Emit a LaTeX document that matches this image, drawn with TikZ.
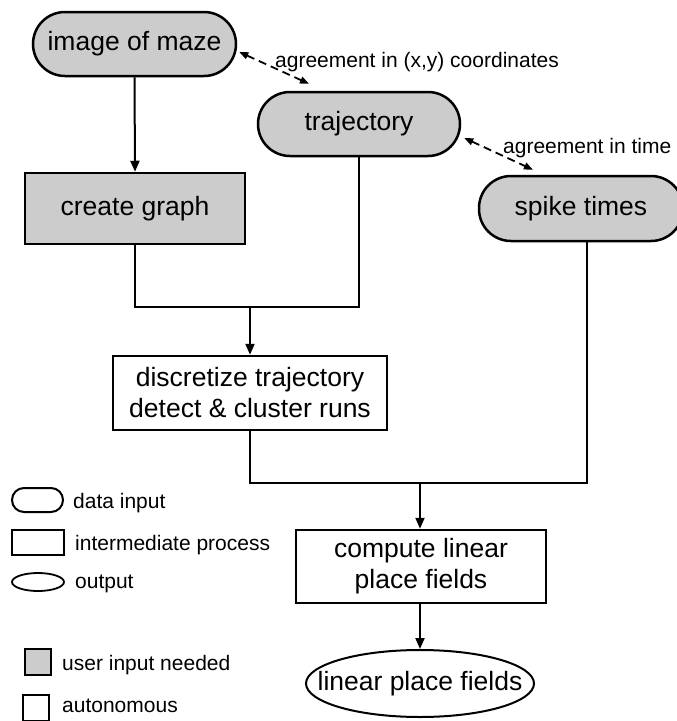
\documentclass[tikz,border=0pt]{standalone}
\usepackage{fontspec}
\setmainfont{Liberation Sans}
\usetikzlibrary{shapes.geometric,arrows.meta,calc}
\definecolor{usergray}{HTML}{CCCCCC}
\tikzset{
  nodefont/.style={font=\fontsize{26.5}{31}\selectfont},
  legfont/.style={font=\fontsize{21}{25}\selectfont},
  datain/.style={nodefont, draw, line width=2.5pt, fill=usergray, rectangle,
    rounded corners=32pt, inner sep=0pt},
  procbox/.style={nodefont, draw, line width=2.5pt, rectangle, inner sep=0pt,
    align=center},
  outnode/.style={nodefont, draw, line width=2pt, ellipse, inner sep=0pt},
  flow/.style={line width=2pt},
  flowarr/.style={line width=2pt, -{Triangle[length=11pt,width=9pt]}},
  agree/.style={line width=1.8pt, dash pattern=on 8pt off 5pt,
    {Triangle[length=9pt,width=7pt]}-{Triangle[length=9pt,width=7pt]}},
  legtext/.style={legfont, anchor=base west, inner sep=0pt},
}
\begin{document}
\begin{tikzpicture}[x=1pt,y=-1pt]
\useasboundingbox (0,0) rectangle (677,721);

% data inputs
\node[datain, minimum width=203pt, minimum height=64pt] (maze) at (134.5,44) {image of maze};
\node[datain, minimum width=202pt, minimum height=64pt] (traj) at (359,124) {trajectory};
\node[datain, minimum width=204pt, minimum height=65pt] (spike) at (581,208.5) {spike times};

% processing steps
\node[procbox, fill=usergray, minimum width=220pt, minimum height=71pt] (graph) at (135,208.5) {create graph};
\node[procbox, minimum width=274pt, minimum height=74pt] (disc) at (250,393) {discretize trajectory\\detect \& cluster runs};
\node[procbox, minimum width=250pt, minimum height=73pt] (comp) at (421,566.5) {compute linear\\place fields};

% output
\node[outnode, minimum width=228pt, minimum height=67pt] (out) at (420,683.5) {\makebox[0pt]{linear place fields}};

% agreement arrows
\draw[agree] ($(maze.east)+(2,8)$) -- ($(traj.north)+(-50,-7)$);
\node[legtext] (lblxy) at (275,67) {agreement in (x,y) coordinates};
\draw[agree] ($(traj.east)+(3,14)$) -- ($(spike.north)+(-48,-5)$);
\node[legtext] (lbltime) at (503,153) {agreement in time};

% flow connectors
\coordinate (j1) at (250,307);
\coordinate (j2) at (420,483);
\coordinate (spk) at ($(spike.south)+(6,0)$);
\draw[flowarr] (maze.south) -- (graph.north);
\draw[flow] (graph.south) -- (graph.south |- j1) -- (traj.south |- j1) -- (traj.south);
\draw[flowarr] (j1) -- (disc.north);
\draw[flow] (disc.south) -- (disc.south |- j2) -- (spk |- j2) -- (spk);
\draw[flowarr] (j2) -- (j2 |- comp.north);
\draw[flowarr] (out.north |- comp.south) -- (out.north);

% legend
\node[draw, line width=2pt, rectangle, rounded corners=12pt, minimum width=51pt, minimum height=24pt, inner sep=0pt] (lgdata) at (37.5,500) {};
\node[legtext] (lgdatat) at (73,508) {data input};
\node[draw, line width=2pt, rectangle, minimum width=52pt, minimum height=25pt, inner sep=0pt] (lgproc) at (38,542.5) {};
\node[legtext] (lgproct) at (75,550) {intermediate process};
\node[draw, line width=1.8pt, ellipse, minimum width=52pt, minimum height=18pt, inner sep=0pt] (lgout) at (38,582) {};
\node[legtext] (lgoutt) at (75,588) {output};
\node[draw, line width=2pt, fill=usergray, rectangle, minimum width=26pt, minimum height=26pt, inner sep=0pt] (lguser) at (38,662) {};
\node[legtext] (lgusert) at (62,670) {user input needed};
\node[draw, line width=2pt, rectangle, minimum width=26pt, minimum height=26pt, inner sep=0pt] (lgauto) at (36,708) {};
\node[legtext] (lgautot) at (62,712) {autonomous};
\end{tikzpicture}
\end{document}
